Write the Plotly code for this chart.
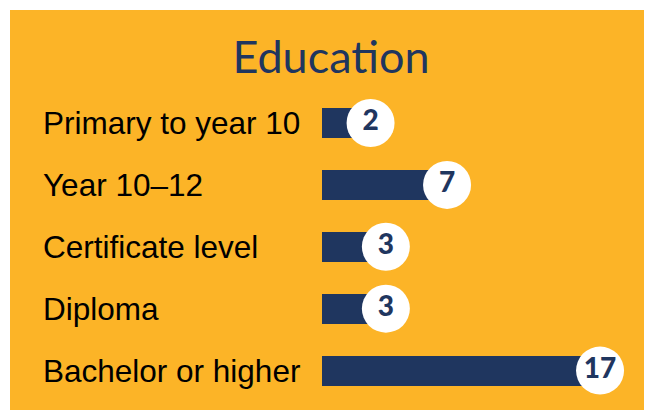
import plotly.graph_objects as go

categories = ["Primary to year 10", "Year 10–12", "Certificate level", "Diploma", "Bachelor or higher"]
values = [2, 7, 3, 3, 17]
title_text = "Education"

ORANGE = "#FCB427"
NAVY = "#1F365F"
BAR_INSET = 1.18  # bars start slightly left of the zero point (style)

fig = go.Figure()
fig.add_trace(go.Bar(
    y=categories, x=[v + BAR_INSET for v in values], base=-BAR_INSET,
    orientation="h", marker=dict(color=NAVY, line=dict(width=0)),
    width=0.485, hoverinfo="skip", showlegend=False,
))
fig.add_trace(go.Scatter(
    y=categories, x=values, mode="markers+text",
    marker=dict(size=48, color="white", line=dict(width=0)),
    text=[str(v) for v in values], textposition="middle center",
    textfont=dict(family="Lato", size=28, color=NAVY, weight=900),
    hoverinfo="skip", showlegend=False, cliponaxis=False,
))

for c in categories:
    fig.add_annotation(
        x=31 / 637, xref="paper", y=c, yref="y", text=c, showarrow=False,
        xanchor="left", yanchor="middle",
        font=dict(family="Liberation Sans, Arial", size=31.5, color="#000000"),
    )

fig.update_layout(
    width=644, height=402,
    margin=dict(l=2, r=5, t=2, b=0),
    paper_bgcolor="white", plot_bgcolor=ORANGE,
    title=dict(text=title_text, x=(331 - 8) / 644, xref="container", xanchor="center",
               y=1 - 49 / 402, yref="container", yanchor="middle",
               font=dict(family="Lato", size=45, color=NAVY)),
    xaxis=dict(range=[-21.57, 20.07], visible=False, fixedrange=True),
    yaxis=dict(range=[4.637, -1.826], visible=False, fixedrange=True,
               categoryorder="array", categoryarray=categories),
    bargap=0,
)

fig.write_html("out.html")
